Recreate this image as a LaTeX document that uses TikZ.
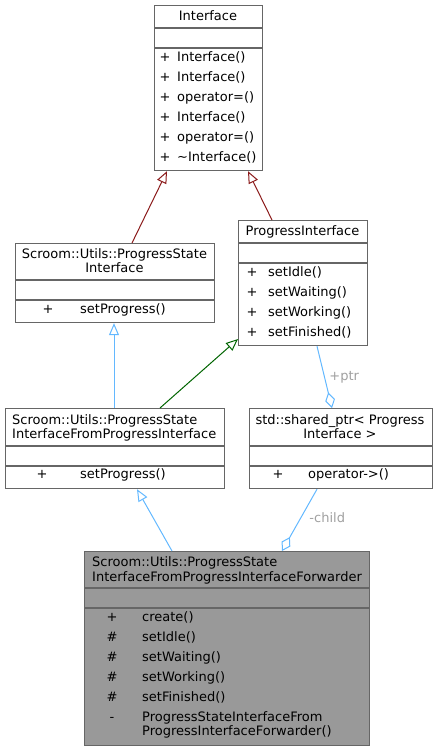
\documentclass[tikz,border=0pt]{standalone}
\usepackage{fontspec}
\setmainfont{DejaVu Sans}
\usetikzlibrary{arrows.meta,calc}
\definecolor{boxline}{HTML}{666666}
\definecolor{pub}{HTML}{63B8FF}
\definecolor{prot}{HTML}{006400}
\definecolor{priv}{HTML}{8B1A1A}
\definecolor{lbl}{HTML}{A0A0A0}
\definecolor{fwdfill}{HTML}{999999}
\newcommand\umlbox[8]{%
  \node[draw=boxline, line width=1.2pt, fill=#8, minimum width={#4-#2}, minimum height={#5-#3}, inner sep=0pt, anchor=north west] (#1) at (#2,#3) {};
  \draw[boxline, line width=1.2pt] (#2,#6) -- (#4,#6) (#2,#7) -- (#4,#7);
}
\tikzset{
  txt/.style={inner sep=0pt, anchor=base west},
  ctxt/.style={inner sep=0pt, anchor=base},
  inh/.style={line width=1pt, -{Triangle[open, length=12pt, width=10pt, line width=1pt]}},
  agg/.style={line width=1pt, -{Diamond[open, length=16pt, width=10pt, line width=1pt]}},
  elabel/.style={text=lbl, inner sep=0pt, anchor=base}
}
\begin{document}
\begin{tikzpicture}[x=1pt,y=-1pt,font=\fontsize{13}{14}\selectfont]
\useasboundingbox (0,0) rectangle (437,751);
% Interface
\umlbox{iface}{154}{5}{262}{170}{28}{48}{white}
\node[ctxt] (ift) at (208,20.5) {Interface};
\foreach \y/\m [count=\i] in {61.2/Interface(), 81.2/Interface(), 101.2/operator=(), 121.2/Interface(), 141.2/operator=(), 161.2/\textasciitilde Interface()} {
  \node[ctxt] (ifs\i) at (165,\y) {+};
  \node[txt] (ifm\i) at (177,\y) {\m};
}
% ProgressInterface
\umlbox{pi}{238}{220}{367}{345}{243}{263}{white}
\node[ctxt] (pit) at (302.5,235.5) {ProgressInterface};
\foreach \y/\m [count=\i] in {276.2/setIdle(), 296.2/setWaiting(), 316.2/setWorking(), 336.2/setFinished()} {
  \node[ctxt] (pis\i) at (252,\y) {+};
  \node[txt] (pim\i) at (268,\y) {\m};
}
% Scroom::Utils::ProgressStateInterface
\umlbox{psi}{15}{243}{214}{322}{280}{300}{white}
\node[ctxt] (psit1) at (114.5,258.8) {Scroom::Utils::ProgressState};
\node[ctxt] (psit2) at (114.5,272.8) {Interface};
\node[ctxt] (psis1) at (48,313.5) {+};
\node[txt] (psim1) at (80,313.5) {setProgress()};
% PSIFPI
\umlbox{fpi}{5}{408}{224}{488}{446}{466}{white}
\node[txt] (fpit1) at (12,424.5) {Scroom::Utils::ProgressState};
\node[txt] (fpit2) at (12,438.5) {InterfaceFromProgressInterface};
\node[ctxt] (fpis1) at (42,478.5) {+};
\node[txt] (fpim1) at (80,478.5) {setProgress()};
% shared_ptr
\umlbox{sp}{249}{408}{432}{488}{446}{466}{white}
\node[ctxt] (spt1) at (340,424.5) {std::shared\_ptr< Progress};
\node[ctxt] (spt2) at (340,438.5) {Interface >};
\node[ctxt] (sps1) at (278,478.5) {+};
\node[txt] (spm1) at (308,478.5) {operator->()};
% Forwarder
\umlbox{fw}{84}{551}{369}{745}{588}{608}{fwdfill}
\node[txt] (fwt1) at (92,566.5) {Scroom::Utils::ProgressState};
\node[txt] (fwt2) at (92,581) {InterfaceFromProgressInterfaceForwarder};
\foreach \y/\s/\m [count=\i] in {621/+/create(), 641/\#/setIdle(), 661/\#/setWaiting(), 681/\#/setWorking(), 701/\#/setFinished()} {
  \node[ctxt] (fws\i) at (112,\y) {\s};
  \node[txt] (fwm\i) at (142,\y) {\m};
}
\node[ctxt] (fws6) at (112,721) {-};
\node[txt] (fwm6) at (142,721) {ProgressStateInterfaceFrom};
\node[txt] (fwm7) at (142,735) {ProgressInterfaceForwarder()};
% connectors
\draw[inh, priv] ($(psi.north west)+(117,0)$) -- ($(iface.south west)+(13,0)$);
\draw[inh, priv] ($(pi.north west)+(34,0)$) -- ($(iface.south west)+(94,0)$);
\draw[inh, pub] ($(fpi.north west)+(109,0)$) -- ($(psi.south west)+(99,0)$);
\draw[inh, prot] ($(fpi.north west)+(155,0)$) -- ($(pi.north west)+(0,119)$);
\draw[agg, pub] ($(pi.south west)+(79,0)$) -- node[elabel, pos=0.48, xshift=20pt, yshift=-5pt] (lptr) {+ptr} ($(sp.north west)+(83,0)$);
\draw[inh, pub] ($(fw.north west)+(88,0)$) -- ($(fpi.south west)+(132,0)$);
\draw[agg, pub] ($(sp.south west)+(68,0)$) -- node[elabel, pos=0.45, xshift=26pt, yshift=-5pt] (lchild) {-child} ($(fw.north west)+(198,0)$);
\end{tikzpicture}
\end{document}
